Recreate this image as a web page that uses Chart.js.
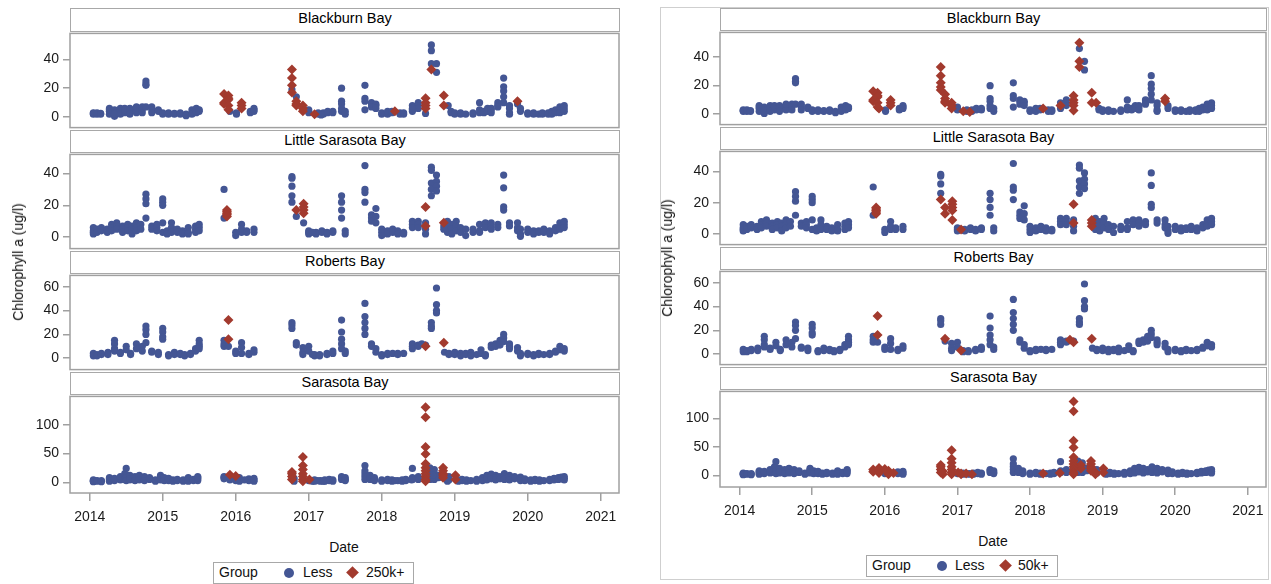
<!DOCTYPE html>
<html><head><meta charset="utf-8">
<script src="https://cdn.jsdelivr.net/npm/chart.js@4/dist/chart.umd.min.js"></script>
<style>
body{margin:0;width:1271px;height:584px;background:#fff;position:relative;overflow:hidden;font-family:"Liberation Sans",Arial,sans-serif;color:#111;}
.hdr{position:absolute;box-sizing:border-box;border:1.5px solid #a8a8a8;text-align:center;font-size:14.5px;line-height:19px;color:#000;background:#fff;}
.lbl{position:absolute;font-size:14px;color:#111;white-space:nowrap;}
.legend{position:absolute;box-sizing:border-box;border:1.5px solid #a8a8a8;font-size:14px;}
.legend span{position:absolute;top:1px;white-space:nowrap;}
.dot{position:absolute;width:10px;height:10px;border-radius:50%;background:#445694;top:5px;}
.dia{position:absolute;width:9px;height:9px;background:#A23A2E;transform:rotate(45deg);top:5px;}
.frame{position:absolute;box-sizing:border-box;border:1px solid #cfcfcf;}
</style></head><body>
<div class="frame" style="left:660px;top:7px;width:609px;height:573px"></div>
<script>
// ---- Data: [decimal year, [chlorophyll a values]] ----
// base = "Less" in both figures; mid = red only in right (50k+) figure; top = red in both figures
const bbBase = [[2014.05,[2,3,2.5]],[2014.1,[2,3]],[2014.15,[2.5,2]],[2014.27,[6,4,2,5]],[2014.34,[5,3,0.5,2]],[2014.42,[6,4,2]],[2014.48,[6,3,5]],[2014.55,[6,4,2]],[2014.64,[6,4,3,7]],[2014.72,[7,5,3]],[2014.77,[25,23,22,7]],[2014.85,[7,5,3]],[2014.94,[5,4]],[2015.0,[3,2]],[2015.08,[3,2]],[2015.16,[2.5,2]],[2015.24,[3,2]],[2015.32,[2,1]],[2015.4,[5,3,2]],[2015.46,[6,4,3]],[2015.5,[5,4]],[2016.01,[2,3]],[2016.2,[3,4]],[2016.25,[5,6,4]],[2017.0,[4,3,5]],[2017.13,[3,2]],[2017.2,[3,2]],[2017.26,[3,4]],[2017.33,[3,4]],[2017.45,[20,11,9,6,4]],[2017.5,[4,2]],[2017.77,[22,13,11,5]],[2017.86,[10,9,7]],[2017.92,[9,8,6]],[2018.0,[3,2]],[2018.08,[3,2,4]],[2018.14,[3,4]],[2018.25,[3,2]],[2018.3,[2,3]],[2018.42,[8,5,4]],[2018.5,[10,8,6]],[2018.68,[46]],[2018.75,[37,31]],[2018.95,[4,3]],[2019.0,[3,2]],[2019.08,[2,3]],[2019.15,[2]],[2019.25,[2,3]],[2019.34,[10,5,3]],[2019.4,[4,3]],[2019.45,[6,4]],[2019.5,[6,5,3]],[2019.59,[10,8,7]],[2019.67,[27,21,18,14,10]],[2019.75,[8,6,3,2]],[2019.9,[6,4]],[2020.0,[3,2]],[2020.08,[2,3]],[2020.15,[2]],[2020.2,[2,3]],[2020.28,[3,2]],[2020.33,[4,2]],[2020.38,[5,3]],[2020.44,[7,5,3]],[2020.5,[8,6,4]]];
const bbMid = [[2015.92,[4]],[2016.77,[19]],[2016.83,[14]],[2017.17,[1.5]],[2018.42,[6]],[2018.6,[2.5]],[2018.68,[50,37]],[2018.91,[8]],[2019.86,[9]]];
const bbTop = [[2015.84,[16,10,9]],[2015.9,[15,13,12,8,5]],[2016.08,[10,8,6]],[2016.77,[33,27,22,17]],[2016.83,[11,9,8]],[2016.92,[8,6,4]],[2017.08,[2]],[2018.18,[4]],[2018.6,[13,10,8,6]],[2018.68,[33]],[2018.85,[15,8]],[2019.86,[11]]];

const lsBase = [[2014.05,[6,4,2,3]],[2014.1,[5,3]],[2014.16,[6,4]],[2014.24,[5,3]],[2014.3,[8,6,4]],[2014.37,[9,7,5]],[2014.45,[7,5,3]],[2014.52,[8,6,4]],[2014.58,[7,5,2]],[2014.64,[9,6,4]],[2014.7,[8,5]],[2014.77,[27,24,21,12]],[2014.85,[7,5]],[2014.92,[8,6,4]],[2015.0,[24,22,20,9,3]],[2015.06,[4,2]],[2015.12,[9,6,3]],[2015.2,[5,3]],[2015.27,[4,2]],[2015.35,[6,3,2]],[2015.45,[7,5,3]],[2015.5,[8,6,4]],[2015.84,[30,12]],[2016.0,[1,3]],[2016.08,[8,5,3]],[2016.15,[4,3]],[2016.25,[5,3]],[2016.77,[38,37,32,26]],[2017.0,[3,2,4]],[2017.1,[3,2]],[2017.18,[3,4]],[2017.25,[3,2]],[2017.33,[4,3]],[2017.45,[26,22,17,12]],[2017.5,[4,2]],[2017.77,[45,30,28,22]],[2017.86,[14,12,10]],[2017.92,[18,13,9]],[2018.0,[5,3,1]],[2018.08,[4,2]],[2018.15,[5,3]],[2018.22,[4,2]],[2018.3,[3,2]],[2018.42,[10,8,6]],[2018.5,[10,8,6]],[2018.6,[9,5,2]],[2018.68,[44,42,34,30,26]],[2018.75,[39,35,32,29]],[2018.9,[10,6,3]],[2018.96,[8,5,2]],[2019.02,[10,7,4]],[2019.08,[6,3]],[2019.15,[5,1]],[2019.25,[3,5]],[2019.34,[8,4,3]],[2019.42,[9,6]],[2019.5,[9,7,5]],[2019.59,[8,6]],[2019.67,[39,31,19,17]],[2019.75,[9,7]],[2019.86,[9,6,4]],[2019.9,[5,2,0.5]],[2020.0,[5,3]],[2020.08,[4,2]],[2020.15,[4,3]],[2020.22,[5,3]],[2020.3,[4,2]],[2020.38,[6,4]],[2020.44,[9,7,5]],[2020.5,[10,8,6]]];
const lsMid = [[2016.77,[22]],[2016.83,[13]],[2016.93,[9]],[2017.05,[3]],[2018.85,[7,5]]];
const lsTop = [[2015.88,[17,16,15,14,13]],[2016.83,[17]],[2016.93,[21,19,17,15]],[2018.6,[19,7]],[2018.85,[9]]];

const rbBase = [[2014.05,[4,2]],[2014.1,[3,2]],[2014.16,[4,3]],[2014.25,[5,3]],[2014.34,[15,12,8,6]],[2014.42,[5,4]],[2014.5,[10,7]],[2014.56,[4,3]],[2014.64,[12,8]],[2014.72,[10,6]],[2014.77,[27,24,20,13]],[2014.85,[6,5]],[2014.94,[5,3]],[2015.0,[25,22,18,16]],[2015.08,[3,2]],[2015.16,[5,3]],[2015.24,[4,3]],[2015.3,[3,2]],[2015.38,[4,3]],[2015.45,[8,6]],[2015.5,[15,12,10,8]],[2015.84,[15,12,10]],[2015.9,[10]],[2016.0,[6,4]],[2016.08,[13,9,4]],[2016.18,[4,3]],[2016.25,[7,5]],[2016.77,[30,28,25]],[2016.83,[11]],[2016.92,[9,5,3]],[2017.0,[10,6]],[2017.08,[3,2]],[2017.15,[3,2]],[2017.25,[4,3]],[2017.33,[6,4]],[2017.45,[32,22,16,12,8]],[2017.5,[6,4]],[2017.77,[46,35,30,25,20]],[2017.86,[12,10]],[2017.92,[8,5]],[2018.0,[3,2]],[2018.08,[4,3]],[2018.15,[4]],[2018.22,[4,3]],[2018.3,[4]],[2018.42,[12,10,8]],[2018.5,[11,10]],[2018.6,[11]],[2018.68,[30,27,25]],[2018.75,[59,45,40,38]],[2018.86,[5]],[2018.92,[4,3]],[2019.0,[5,3]],[2019.08,[4,2]],[2019.15,[4,3]],[2019.22,[5,2]],[2019.3,[3]],[2019.36,[7,4]],[2019.42,[3,2]],[2019.5,[11,9]],[2019.56,[12,10]],[2019.62,[15,11]],[2019.67,[20,17,14]],[2019.75,[12,10,8]],[2019.86,[9,6]],[2019.9,[4,2]],[2020.0,[4,3]],[2020.08,[3,2]],[2020.15,[4,3]],[2020.22,[3]],[2020.3,[4,3]],[2020.38,[6,5]],[2020.44,[10,7]],[2020.5,[8,6]]];
const rbMid = [[2016.83,[13]],[2017.05,[3]],[2018.55,[12]]];
const rbTop = [[2015.9,[32,16]],[2018.6,[10]],[2018.85,[13]]];

const sbBase = [[2014.05,[2,3,4,1]],[2014.1,[2,3]],[2014.16,[1,3]],[2014.27,[4,6,2,8]],[2014.34,[3,5,7]],[2014.42,[4,6,8,10]],[2014.48,[5,10,15]],[2014.5,[24,12,8,3]],[2014.55,[4,8,12,6]],[2014.62,[6,10,3]],[2014.68,[8,12,4]],[2014.75,[10,6,3]],[2014.82,[5,8]],[2014.9,[4,2]],[2014.97,[10,12,8,4]],[2015.02,[8,6,3]],[2015.08,[5,3,7]],[2015.14,[4,2]],[2015.2,[3,5]],[2015.28,[2,4]],[2015.35,[8,5,2]],[2015.42,[3,5]],[2015.48,[10,6,3,8]],[2015.84,[8]],[2016.0,[5,3]],[2016.18,[6,3]],[2016.25,[7,4,2]],[2016.77,[14,10]],[2017.0,[3]],[2017.08,[2,4]],[2017.16,[3,2]],[2017.22,[4,2]],[2017.28,[3,5]],[2017.33,[4,2]],[2017.45,[10,8,5]],[2017.5,[8,5,3]],[2017.77,[29,20,15,10,5]],[2017.84,[12,8,5]],[2017.9,[8,5,3]],[2018.0,[4,2]],[2018.08,[3,5]],[2018.14,[2,4]],[2018.22,[3]],[2018.28,[4,2]],[2018.33,[3,5]],[2018.42,[24,8,5]],[2018.5,[10,7,5]],[2018.66,[25,20,15,10,5]],[2018.72,[22,15,10,5]],[2018.78,[12,8]],[2018.92,[10,6,4]],[2019.05,[4,2]],[2019.1,[3,5]],[2019.16,[2,4]],[2019.22,[3]],[2019.3,[5,2]],[2019.38,[8,5,3]],[2019.44,[12,8,4]],[2019.5,[14,10,6]],[2019.56,[12,8,4]],[2019.62,[10,6]],[2019.68,[15,10,5]],[2019.75,[12,8,4]],[2019.82,[10,6]],[2019.9,[9,5,3]],[2019.96,[6,3]],[2020.04,[4,2]],[2020.1,[5,3]],[2020.16,[4,2]],[2020.22,[3]],[2020.3,[5,3]],[2020.36,[7,4]],[2020.42,[8,5]],[2020.46,[9,6]],[2020.5,[10,7,4]]];
const sbMid = [[2015.84,[10,6]],[2015.92,[8,4]],[2016.05,[8,5,2]],[2016.12,[4]],[2016.8,[7,2]],[2017.05,[3,2]],[2017.12,[3]],[2017.2,[2]],[2018.18,[3]],[2018.41,[4]],[2018.7,[18,12]],[2018.9,[5,2]]];
const sbTop = [[2015.92,[13]],[2016.0,[11]],[2016.77,[18,15,10,5]],[2016.92,[44,29,22,15,10,5,2]],[2017.01,[5]],[2018.6,[130,113,61,49,32,25,20,15,10,5,2]],[2018.84,[25,20,15,12,8]],[2019.01,[12,5]]];

const bayNames = ['Blackburn Bay','Little Sarasota Bay','Roberts Bay','Sarasota Bay'];
const yTickVals = [[0,20,40],[0,20,40],[0,20,40,60],[0,50,100]];
const xTickVals = [2014,2015,2016,2017,2018,2019,2020,2021];
const groupLabels = ['Less','250k+','50k+'];

const BLUE = '#445694', RED = '#A23A2E', AX = '#a0a0a0', TXT = '#1a1a1a', FONT = '"Liberation Sans", Arial, sans-serif';
const bays = [
  {base:bbBase, mid:bbMid, top:bbTop},
  {base:lsBase, mid:lsMid, top:lsTop},
  {base:rbBase, mid:rbMid, top:rbTop},
  {base:sbBase, mid:sbMid, top:sbTop}
];
const figs = [
  {key:'L', left:0, plotL:70, plotR:619, hi:groupLabels[1],
   panels:[[8,31,130],[130,152,251],[251,273,372],[372,394,493]],
   yr:[[-7.3,58],[-7.2,52],[-9.6,69.6],[-18.6,149]],
   ytitle:[18,262], date:[344,547], legend:{l:213,t:562,w:201,h:22,g:5,c:70,less:89,d:134,hi:152}},
  {key:'R', left:650, plotL:720, plotR:1266, hi:groupLabels[2],
   panels:[[8,30,127],[127,149,247],[247,269,367],[367,389,487]],
   yr:[[-7.3,57.3],[-6.7,52.7],[-8.8,69.6],[-20.7,148]],
   ytitle:[667,258], date:[993,541], legend:{l:866,t:555,w:192,h:22,g:5,c:70,less:88,d:134,hi:151}}
];
const X_MIN = 2013.73, X_MAX = 2021.25;

function expand(groups){ const out=[]; for(const [t,vs] of groups) for(const v of vs) out.push({x:t,y:v}); return out; }

const boxPlugin = { id:'box', afterDraw(c){ const a=c.chartArea, ctx=c.ctx; ctx.save(); ctx.strokeStyle=AX; ctx.lineWidth=1.5; ctx.strokeRect(a.left,a.top,a.right-a.left,a.bottom-a.top); ctx.restore(); } };

function addDiv(cls, css, text){ const d=document.createElement('div'); d.className=cls; d.style.cssText=css; if(text!==undefined) d.textContent=text; document.body.appendChild(d); return d; }

function makePanel(fig, i){
  const [hTop, pTop, pBot] = fig.panels[i];
  const isBottom = i===3;
  const padTop=10, padBot=isBottom?0:10, padR=20, xAxisH=30;
  const w = fig.plotR - fig.left + padR;
  const h = (pBot-pTop) + padTop + (isBottom? xAxisH : padBot);
  const c = document.createElement('canvas');
  c.width=w; c.height=h;
  c.style.cssText=`position:absolute;left:${fig.left}px;top:${pTop-padTop}px;width:${w}px;height:${h}px`;
  document.body.appendChild(c);
  addDiv('hdr', `left:${fig.plotL}px;top:${hTop}px;width:${fig.plotR-fig.plotL+1}px;height:${pTop-hTop+1}px`, bayNames[i]);
  const b = bays[i];
  const less = fig.key==='L' ? expand(b.base).concat(expand(b.mid)) : expand(b.base);
  const hi = fig.key==='L' ? expand(b.top) : expand(b.mid).concat(expand(b.top));
  const yt = yTickVals[i];
  new Chart(c, {
    type:'scatter',
    data:{datasets:[
      {label:fig.hi, data:hi, pointStyle:'rectRot', pointRadius:5, pointHoverRadius:5, pointBackgroundColor:RED, backgroundColor:RED, borderColor:RED, pointBorderWidth:0},
      {label:groupLabels[0], data:less, pointStyle:'circle', pointRadius:3.6, pointHoverRadius:3.6, pointBackgroundColor:BLUE, backgroundColor:BLUE, borderColor:BLUE, pointBorderWidth:0}
    ]},
    options:{
      responsive:false, animation:false, devicePixelRatio:1, events:[],
      layout:{padding:{top:padTop,bottom:padBot,left:0,right:padR}},
      plugins:{legend:{display:false}, tooltip:{enabled:false}},
      scales:{
        x:{type:'linear', min:X_MIN, max:X_MAX, display:isBottom,
           afterBuildTicks:s=>{ s.ticks = xTickVals.map(v=>({value:v})); },
           afterFit:s=>{ s.height = isBottom ? xAxisH : 0; },
           grid:{drawOnChartArea:false, tickLength:8, color:AX, lineWidth:1.5},
           border:{display:false},
           ticks:{padding:8, autoSkip:false, maxRotation:0, color:TXT, font:{family:FONT,size:14}, callback:v=>String(v)}},
        y:{type:'linear', min:fig.yr[i][0], max:fig.yr[i][1],
           afterBuildTicks:s=>{ s.ticks = yt.map(v=>({value:v})); },
           afterFit:s=>{ s.width = fig.plotL - fig.left; },
           grid:{drawOnChartArea:false, tickLength:7, color:AX, lineWidth:1.5},
           border:{display:false},
           ticks:{padding:4, color:TXT, font:{family:FONT,size:14}, callback:v=>String(v)}}
      }
    },
    plugins:[boxPlugin]
  });
}

for(const fig of figs){
  for(let i=0;i<4;i++) makePanel(fig,i);
  addDiv('lbl', `left:${fig.ytitle[0]}px;top:${fig.ytitle[1]}px;transform:translate(-50%,-50%) rotate(-90deg);`, 'Chlorophyll a (ug/l)');
  addDiv('lbl', `left:${fig.date[0]}px;top:${fig.date[1]}px;transform:translate(-50%,-50%);`, 'Date');
  const L = fig.legend;
  const lg = addDiv('legend', `left:${L.l}px;top:${L.t}px;width:${L.w}px;height:${L.h}px`);
  lg.innerHTML = `<span style="left:${L.g}px">Group</span><div class="dot" style="left:${L.c}px"></div><span style="left:${L.less}px">${groupLabels[0]}</span><div class="dia" style="left:${L.d}px"></div><span style="left:${L.hi}px">${fig.hi}</span>`;
}
</script>
</body></html>
